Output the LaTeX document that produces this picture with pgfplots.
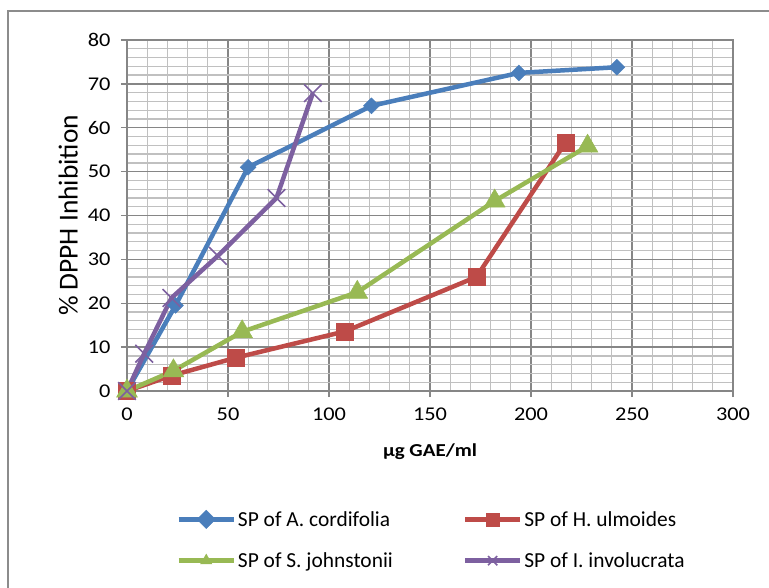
\documentclass[border=0pt]{standalone}
\usepackage{fontspec}
\setmainfont{Carlito}[FakeStretch=1.15]
\newfontfamily\plainfont{Carlito}
\usepackage{pgfplots}
\pgfplotsset{compat=1.18}
\definecolor{cblue}{HTML}{4A7EBB}
\definecolor{cred}{HTML}{BE4B48}
\definecolor{cgreen}{HTML}{98B954}
\definecolor{cpurple}{HTML}{7D60A0}
\definecolor{gmajor}{HTML}{868686}
\definecolor{gminor}{HTML}{C0C0C0}
\definecolor{frame}{HTML}{8C8C8C}
\begin{document}
\begin{tikzpicture}
\useasboundingbox (-127bp,-197bp) rectangle (642bp,391bp);
\draw[frame, line width=1.2bp] (-119bp,-198bp) -- (-119bp,380bp) -- (643bp,380bp);
\begin{axis}[
  at={(0,0)}, anchor=south west,
  scale only axis, width=606bp, height=351bp,
  xmin=0, xmax=300, ymin=0, ymax=80,
  xtick={0,50,...,300}, ytick={0,10,...,80},
  minor x tick num=4, minor y tick num=4,
  grid=both,
  major grid style={gmajor, line width=1.3bp},
  minor grid style={gminor, line width=1.3bp},
  axis line style={gmajor, line width=1.3bp},
  tick align=outside, major tick length=6bp, minor tick length=0pt,
  tick style={gmajor, line width=1.3bp},
  xtick pos=bottom, ytick pos=left,
  /pgf/number format/assume math mode=true,
  ticklabel style={font=\fontsize{19.5}{21}\selectfont},
  yticklabel style={xshift=-7bp},
  xticklabel style={yshift=-7bp},
  xlabel={\textbf{µg GAE/ml}},
  xlabel style={font=\fontsize{18.3}{20}\selectfont, at={(axis description cs:0.5,-0.174)}, anchor=center},
  ylabel={\plainfont\% DPPH Inhibition},
  ylabel style={font=\fontsize{27.5}{30}\selectfont, at={(axis description cs:-0.097,0.5)}, anchor=center},
  legend columns=2,
  legend style={draw=none, fill=none, at={(axis description cs:0.5025,-0.4245)}, anchor=center,
    font=\plainfont\fontsize{21.5}{23}\selectfont,
    /tikz/every even column/.append style={column sep=68bp},
    row sep=21bp},
  legend cell align=left,
  legend image code/.code={\draw[#1] (0bp,0bp) -- (55bp,0bp);
     \draw[#1,mark size=6.5bp] plot coordinates {(27.5bp,0bp)};},
  every axis plot/.append style={line width=4.5bp},
]
\addplot[cblue, mark=square*, mark size=5.6bp, mark options={rotate=45, line width=0.5bp, fill=cblue}]
  coordinates {(0,0) (24,19.5) (60,51) (121,65) (194,72.5) (242.5,73.8)};
\addlegendentry{SP of A. cordifolia}
\addplot[cred, mark=square*, mark size=8.5bp, mark options={line width=0.5bp, fill=cred}]
  coordinates {(0,0) (22,3.5) (54,7.6) (108,13.6) (173,26) (217,56.6)};
\addlegendentry{SP of H. ulmoides}
\addplot[cgreen, mark=triangle*, mark size=12bp, mark options={line width=0.5bp, fill=cgreen}]
  coordinates {(0,0) (23,4.6) (57,13.5) (114,22.5) (182,43.3) (228,55.8)};
\addlegendentry{SP of S. johnstonii}
\addplot[cpurple, mark=x, mark size=12.5bp, mark options={line width=1.6bp}]
  coordinates {(0,0) (8.5,8.5) (22,21.2) (45,30.8) (74,44) (92,67.9)};
\addlegendentry{SP of I. involucrata}
\end{axis}
\end{tikzpicture}
\end{document}
